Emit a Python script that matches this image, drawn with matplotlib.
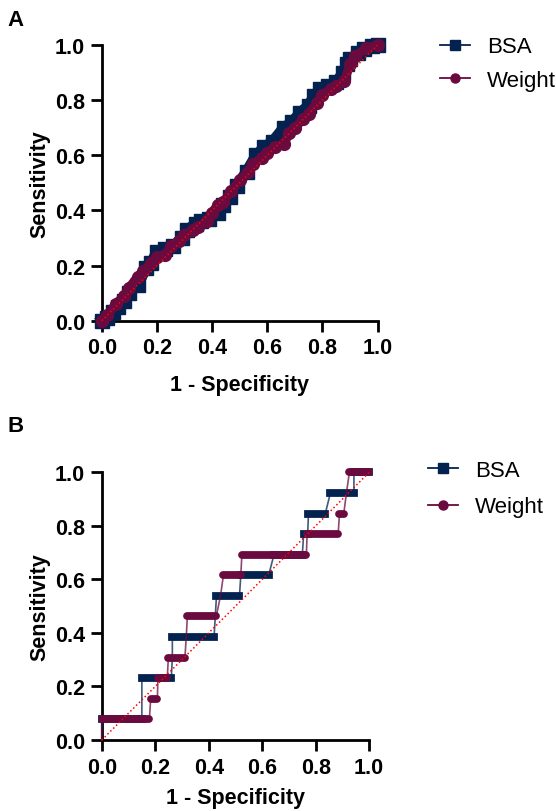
import matplotlib
matplotlib.use("Agg")
import matplotlib.pyplot as plt
from matplotlib.lines import Line2D

plt.rcParams['font.family'] = ['Liberation Sans', 'DejaVu Sans']

NAVY = "#03224f"
MAROON = "#6a0a3e"

# panel A: ROC points (1 - specificity, sensitivity)
a_bsa_x = [0.0, 0.02, 0.04, 0.06, 0.08, 0.10, 0.13, 0.16, 0.18, 0.20, 0.23, 0.26, 0.29, 0.31,
           0.34, 0.36, 0.39, 0.42, 0.44, 0.465, 0.49, 0.525, 0.56, 0.59, 0.62, 0.66, 0.69,
           0.72, 0.75, 0.77, 0.79, 0.82, 0.85, 0.876, 0.89, 0.90, 0.93, 0.95, 0.98, 1.0]
a_bsa_y = [0.0, 0.01, 0.03, 0.05, 0.07, 0.10, 0.13, 0.19, 0.21, 0.25, 0.26, 0.27, 0.30, 0.33,
           0.35, 0.36, 0.37, 0.39, 0.42, 0.45, 0.49, 0.54, 0.60, 0.63, 0.65, 0.70, 0.72,
           0.755, 0.78, 0.815, 0.84, 0.85, 0.865, 0.90, 0.93, 0.95, 0.97, 0.985, 0.995, 1.0]
a_wt_x = [0.0, 0.02, 0.05, 0.08, 0.10, 0.13, 0.15, 0.18, 0.20, 0.23, 0.25, 0.28, 0.30, 0.33,
          0.35, 0.38, 0.40, 0.42, 0.44, 0.47, 0.50, 0.53, 0.55, 0.58, 0.60, 0.63, 0.66,
          0.68, 0.70, 0.73, 0.75, 0.78, 0.80, 0.83, 0.85, 0.88, 0.90, 0.92, 0.96, 1.0]
a_wt_y = [0.0, 0.02, 0.06, 0.09, 0.12, 0.16, 0.18, 0.21, 0.23, 0.24, 0.27, 0.29, 0.31, 0.33,
          0.34, 0.36, 0.39, 0.42, 0.43, 0.47, 0.51, 0.54, 0.57, 0.59, 0.61, 0.63, 0.64,
          0.68, 0.70, 0.73, 0.75, 0.79, 0.82, 0.84, 0.85, 0.87, 0.93, 0.96, 0.99, 1.0]

# panel B: 13 positives -> sensitivity steps of 1/13
# each step: (first x, last x, sensitivity count)
b_bsa_steps = [(0.0, 0.0, 0), (0.0, 0.15, 1), (0.15, 0.26, 3), (0.264, 0.264, 4),
               (0.264, 0.42, 5), (0.429, 0.515, 7), (0.52, 0.624, 8), (0.644, 0.75, 9),
               (0.755, 0.77, 10), (0.773, 0.836, 11), (0.855, 0.943, 12), (0.943, 1.0, 13)]
b_wt_steps = [(0.0, 0.0, 0), (0.0, 0.178, 1), (0.183, 0.208, 2), (0.21, 0.245, 3),
              (0.249, 0.311, 4), (0.316, 0.316, 5), (0.32, 0.428, 6), (0.444, 0.444, 7),
              (0.455, 0.52, 8), (0.524, 0.765, 9), (0.768, 0.884, 10), (0.889, 0.905, 11),
              (0.915, 0.915, 12), (0.926, 1.0, 13)]
n_pos = 13

FS = 15.5

fig = plt.figure(figsize=(5.56, 8.12), dpi=100)
axA = fig.add_axes([0.183, 0.6038, 0.496, 0.3395])
axB = fig.add_axes([0.183, 0.0874, 0.481, 0.3297])


def style_axes(ax, xpad):
    ax.set_xlim(0, 1)
    ax.set_ylim(0, 1)
    ax.set_xticks([0, 0.2, 0.4, 0.6, 0.8, 1.0])
    ax.set_yticks([0, 0.2, 0.4, 0.6, 0.8, 1.0])
    ax.set_xticklabels(["0.0", "0.2", "0.4", "0.6", "0.8", "1.0"])
    ax.set_yticklabels(["0.0", "0.2", "0.4", "0.6", "0.8", "1.0"])
    for s in ["top", "right"]:
        ax.spines[s].set_visible(False)
    for s in ["left", "bottom"]:
        ax.spines[s].set_linewidth(2.0)
    ax.tick_params(width=2.0, length=8, labelsize=FS, pad=4)
    for lab in ax.get_xticklabels() + ax.get_yticklabels():
        lab.set_fontweight("bold")
    ax.set_xlabel("1 - Specificity", fontsize=FS, fontweight="bold", labelpad=xpad)
    ax.set_ylabel("Sensitivity", fontsize=FS, fontweight="bold", labelpad=3)
    ax.plot([0, 1], [0, 1], color="red", ls=":", lw=1.1, zorder=5, clip_on=False)


# panel A
axA.plot(a_bsa_x, a_bsa_y, color=NAVY, lw=8, marker="s", ms=9.5, solid_joinstyle="miter",
         clip_on=False, zorder=3)
axA.plot(a_wt_x, a_wt_y, color=MAROON, lw=6.5, marker="o", ms=8.5, solid_capstyle="round",
         clip_on=False, zorder=4)
style_axes(axA, 11)


# panel B
def draw_steps(ax, steps, color, cap, z):
    path_x, path_y = [], []
    for x0, x1, k in steps:
        y = k / n_pos
        path_x += [x0, x1]
        path_y += [y, y]
    ax.plot(path_x, path_y, color=color, lw=1.2, alpha=0.75, clip_on=False, zorder=z)
    for x0, x1, k in steps:
        y = k / n_pos
        ax.plot([x0, x1], [y, y], color=color, lw=5.6, solid_capstyle=cap,
                clip_on=False, zorder=z + 0.5)


draw_steps(axB, b_bsa_steps, NAVY, "projecting", 3)
draw_steps(axB, b_wt_steps, MAROON, "round", 4)
style_axes(axB, 7)

# legends
handles = [Line2D([], [], color=NAVY, lw=1.3, marker="s", ms=6.5, label="BSA"),
           Line2D([], [], color=MAROON, lw=1.3, marker="o", ms=6.5, label="Weight")]
axA.legend(handles=handles, loc="upper left", bbox_to_anchor=(0.791, 0.954),
           bbox_transform=fig.transFigure, frameon=False, fontsize=16,
           handlelength=1.35, handletextpad=0.77, labelspacing=0.56,
           borderpad=0, borderaxespad=0)
axB.legend(handles=handles, loc="upper left", bbox_to_anchor=(0.770, 0.432),
           bbox_transform=fig.transFigure, frameon=False, fontsize=16,
           handlelength=1.35, handletextpad=0.77, labelspacing=0.68,
           borderpad=0, borderaxespad=0)

fig.text(0.014, 0.988, "A", fontsize=16, fontweight="bold", va="top", ha="left")
fig.text(0.014, 0.488, "B", fontsize=16, fontweight="bold", va="top", ha="left")

fig.savefig("out.png", dpi=100)
